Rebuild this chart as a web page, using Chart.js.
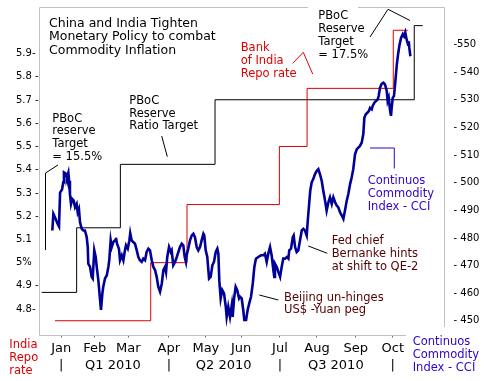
<!DOCTYPE html>
<html><head><meta charset="utf-8">
<script src="https://cdn.jsdelivr.net/npm/chart.js@4.4.1/dist/chart.umd.min.js"></script>
<style>html,body{margin:0;padding:0;background:#fff;}#wrap{width:484px;height:381px;}</style>
</head><body><div id="wrap"><canvas id="c" width="484" height="381"></canvas></div>
<script>
// ---- x axis: trading-day index (0 = first trading day of Jan 2010)
const monthLabels = ['Jan','Feb','Mar','Apr','May','Jun','Jul','Aug','Sep','Oct'];
const monthStartDays = [0,19,38,61,82,102,124,145,167,188];
const quarterLabels = ['Q1 2010','Q2 2010','Q3 2010'];
const quarterCenterDays = [29.3,92.1,155.7];
const quarterDividerDays = [0,61,124,188];

// ---- left axis (India repo rate, %)
const leftTicks = [4.8,4.9,5.0,5.1,5.2,5.3,5.4,5.5,5.6,5.7,5.8,5.9];
const leftTickLabels = ['4.8-','4.9 -','5%','5.1','5.2 -','5.3 -','5.4 -','5.5 -','5.6 -','5.7 -','5.8 -','5.9-'];
// ---- right axis (CCI)
const rightTicks = [450,460,470,480,490,500,510,520,530,540,550];
const rightTickLabels = ['- 450','- 460','- 470','- 480','- 490','- 500','- 510','- 520','- 530','- 540','-550'];

// ---- India repo rate steps (left axis)
const repoDays = [-3.6,50.7,71.3,123.7,139.4,188.3,196.5];
const repoRate = [4.75,5.0,5.25,5.5,5.75,6.0,6.0];

// ---- PBoC reserve ratio target steps, drawn on left-axis scale
const rrrDays = [-11.1,8.7,33.5,87.2,200.2,205.0];
const rrrLevel = [4.872,5.150,5.423,5.701,6.020,6.020];

// ---- Continuous Commodity Index (right axis)
const cciDays = [-5.1,-4.5,-3.3,-2.2,-1.3,-0.7,0.4,1.1,1.5,2.7,3.2,4.0,4.4,4.9,5.5,6.2,7.0,7.8,8.7,9.3,10.0,10.6,11.6,12.5,13.4,14.4,15.0,15.3,16.3,17.2,17.8,18.7,19.5,20.1,21.0,22.0,22.5,23.3,23.8,24.8,25.8,26.7,27.2,28.0,28.6,29.5,30.5,31.0,31.6,32.7,33.3,34.3,35.2,36.1,36.7,37.7,38.6,39.1,39.9,40.8,41.8,42.8,43.7,44.6,45.6,46.5,47.5,48.4,49.4,50.3,51.3,52.2,53.2,54.1,55.0,56.0,57.0,57.9,58.8,59.4,60.1,61.1,62.1,62.6,63.5,64.5,65.5,66.4,67.3,68.3,69.2,70.0,70.7,71.1,72.0,73.0,74.0,74.9,75.8,76.8,77.7,78.7,79.6,80.6,81.1,81.9,82.8,83.8,84.7,85.7,86.6,87.6,88.5,89.1,89.6,90.4,91.3,92.3,93.3,93.8,94.7,95.7,96.7,97.2,98.0,98.9,99.8,100.8,101.4,102.3,103.2,103.8,104.8,105.7,106.6,107.6,108.6,109.5,110.4,111.7,113.3,114.6,115.5,116.5,117.4,118.4,119.3,120.3,120.8,121.2,122.2,123.1,124.1,125.0,125.9,126.9,127.9,128.8,129.3,130.3,131.3,131.8,132.6,133.5,134.4,135.4,136.4,137.3,138.2,139.2,139.8,140.5,141.2,142.0,142.9,143.9,144.9,145.8,146.7,147.7,148.6,149.6,150.5,151.5,152.4,153.4,154.3,155.3,156.2,157.1,158.1,159.1,160.0,160.9,161.9,162.8,163.8,164.7,165.6,166.6,167.6,168.5,169.4,170.4,171.3,171.9,172.7,173.6,174.5,175.1,176.1,176.6,177.5,178.5,179.5,180.0,180.8,181.7,182.7,183.6,184.6,185.1,185.7,186.5,187.0,187.4,188.0,188.7,189.5,190.3,191.0,191.7,192.7,193.7,194.4,195.1,195.9,196.7,197.1,197.4,198.0];
const cciValue = [482.7,488.7,487.0,485.2,484.1,496.4,497.5,500.1,503.7,503.2,501.8,503.6,500.7,495.9,492.3,494.1,493.5,491.1,492.3,489.3,490.5,485.7,483.3,482.7,482.7,480.3,476.7,470.7,469.5,465.9,465.3,475.5,473.1,469.5,464.7,457.5,453.9,459.9,462.3,465.3,466.5,469.5,471.9,479.1,476.7,478.5,479.1,480.1,477.9,476.1,471.9,473.7,471.9,475.5,477.3,476.1,479.1,481.7,479.1,478.5,477.9,475.5,473.1,471.9,471.3,472.5,471.9,474.9,476.1,475.5,471.9,469.5,468.3,465.9,462.3,460.5,463.5,468.3,469.5,467.7,473.1,476.7,474.9,475.5,470.1,471.3,473.1,474.9,476.7,477.9,477.3,473.1,471.3,473.7,476.1,479.1,480.9,481.5,480.3,476.7,475.5,476.7,479.1,481.5,480.9,475.5,473.1,465.3,465.9,470.1,471.3,474.9,476.1,474.3,464.7,458.1,461.1,459.9,455.0,451.4,455.0,451.4,455.7,451.4,458.1,462.3,461.1,458.1,458.7,458.1,453.9,450.3,450.3,453.9,456.3,458.7,463.5,469.5,472.5,473.1,473.7,473.7,474.3,471.3,474.3,476.7,473.7,468.3,465.9,470.7,469.5,467.7,465.9,469.5,472.5,472.5,473.1,472.5,475.5,476.1,480.3,480.9,476.7,474.9,475.5,479.1,482.7,483.3,482.7,480.9,486.3,491.7,497.1,500.1,501.3,503.1,504.3,504.9,503.1,500.7,497.1,493.5,489.9,492.9,494.7,492.3,494.7,492.9,491.7,491.1,489.3,488.1,486.9,489.9,493.5,495.9,499.5,501.9,504.9,510.3,512.1,512.7,513.3,514.5,517.6,523.5,524.8,525.3,526.0,527.1,526.6,527.8,528.9,529.6,530.2,531.4,534.4,535.8,536.2,535.6,533.2,529.6,530.8,526.0,524.2,527.1,530.8,531.4,536.8,542.8,546.4,549.4,552.4,553.8,553.0,554.4,551.8,550.0,551.2,548.8,545.8];

const FONT = '"DejaVu Sans", sans-serif';
const toPts = (xs, ys) => xs.map((x, i) => ({x: x, y: ys[i]}));

const annotations = [
  {lines:['China and India Tighten','Monetary Policy to combat','Commodity Inflation'], x:49, y:26.5, lh:13.8, color:'#000', size:12.5},
  {lines:['PBoC','reserve','Target','= 15.5%'], x:52.3, y:121.5, lh:12.8, color:'#000', size:11.5},
  {lines:['PBoC','Reserve','Ratio Target'], x:129.3, y:104, lh:12.7, color:'#000', size:11.5},
  {lines:['Bank','of India','Repo rate'], x:240.7, y:51, lh:12.9, color:'#dd0000', size:11.5},
  {lines:['PBoC','Reserve','Target','= 17.5%'], x:318.3, y:19, lh:13, color:'#000', size:11.5},
  {lines:['Continuos','Commodity','Index - CCI'], x:367.7, y:184, lh:13, color:'#3300cc', size:11.5},
  {lines:['Fed chief','Bernanke hints','at shift to QE-2'], x:331.7, y:244, lh:13, color:'#550000', size:11.5},
  {lines:['Beijing un-hinges','US$ -Yuan peg'], x:284, y:300.7, lh:12.3, color:'#550000', size:11.5},
  {lines:['India','Repo','rate'], x:9.3, y:348.3, lh:12.9, color:'#dd0000', size:11.5},
  {lines:['Continuos','Commodity','Index - CCI'], x:412.7, y:345, lh:12.85, color:'#3300cc', size:11.5}
];
const pointers = [
  {pts:[[45.5,250],[45.5,173],[58,165]], color:'#000'},
  {pts:[[161.7,136],[167.3,156.7]], color:'#000'},
  {pts:[[292.7,63.3],[303.3,52.3],[312.7,74]], color:'#dd0000'},
  {pts:[[370,37],[388,9.3],[410,20.5]], color:'#000'},
  {pts:[[370,148],[394.3,148],[394.3,168.5]], color:'#3300cc'},
  {pts:[[308.3,246],[327.3,253.3]], color:'#000'},
  {pts:[[259.3,295],[278.3,300]], color:'#000'}
];

const framePlugin = {
  id:'frame',
  beforeDatasetsDraw(chart){
    const {ctx, chartArea:a} = chart;
    const L = Math.floor(a.left)+0.5, R = Math.floor(a.right)+0.5, T = Math.floor(a.top)+0.5, B = Math.floor(a.bottom)+0.5;
    ctx.save();
    ctx.strokeStyle = '#c0c0c0'; ctx.lineWidth = 1;
    ctx.beginPath();
    ctx.moveTo(L, B); ctx.lineTo(L, T); ctx.lineTo(308, T);
    ctx.moveTo(358, T); ctx.lineTo(R, T); ctx.lineTo(R, 327);
    ctx.moveTo(L, B); ctx.lineTo(406, B);
    ctx.stroke();
    ctx.restore();
  },
  afterDraw(chart){
    const {ctx} = chart;
    const xs = chart.scales.x;
    ctx.save();
    ctx.lineWidth = 1;
    pointers.forEach(p => {
      ctx.strokeStyle = p.color;
      ctx.beginPath();
      p.pts.forEach((q, i) => i ? ctx.lineTo(q[0], q[1]) : ctx.moveTo(q[0], q[1]));
      ctx.stroke();
    });
    ctx.textAlign = 'left'; ctx.textBaseline = 'alphabetic';
    annotations.forEach(a => {
      ctx.fillStyle = a.color;
      ctx.font = a.size + 'px ' + FONT;
      a.lines.forEach((l, i) => ctx.fillText(l, a.x, a.y + i * a.lh));
    });
    // quarter row under the month labels
    ctx.fillStyle = '#000';
    ctx.font = '13px ' + FONT;
    ctx.textAlign = 'center';
    quarterLabels.forEach((q, i) => ctx.fillText(q, xs.getPixelForValue(quarterCenterDays[i]), 369.3));
    quarterDividerDays.forEach(d => ctx.fillText('|', xs.getPixelForValue(d), 369.3));
    ctx.restore();
  }
};

new Chart(document.getElementById('c'), {
  type:'line',
  data:{datasets:[
    {label:'CCI', data:toPts(cciDays, cciValue), yAxisID:'y2', borderColor:'#000099', borderWidth:2.6, pointRadius:0, tension:0, order:0},
    {label:'India repo rate', data:toPts(repoDays, repoRate), yAxisID:'y', stepped:'before', borderColor:'#dd0000', borderWidth:1, pointRadius:0, order:1},
    {label:'PBoC reserve ratio', data:toPts(rrrDays, rrrLevel), yAxisID:'y', stepped:'before', borderColor:'#000000', borderWidth:1, pointRadius:0, order:2}
  ]},
  options:{
    responsive:false, animation:false, devicePixelRatio:1,
    layout:{padding:{top:6, left:16, right:0, bottom:0}},
    plugins:{legend:{display:false}, tooltip:{enabled:false}},
    scales:{
      x:{type:'linear', min:-12.37, max:217.07,
        afterBuildTicks:s => { s.ticks = monthStartDays.map(v => ({value:v})); },
        ticks:{autoSkip:false, maxRotation:0, padding:3, color:'#000', font:{family:FONT, size:13},
          callback:(v, i) => monthLabels[i]},
        grid:{drawOnChartArea:false, drawTicks:true, tickLength:2, color:'#666'},
        border:{display:false},
        afterFit:s => { s.height = 45.5; }
      },
      y:{type:'linear', position:'left', min:4.6865, max:6.098,
        afterBuildTicks:s => { s.ticks = leftTicks.map(v => ({value:v})); },
        ticks:{crossAlign:'far', padding:0, color:'#000', font:{family:FONT, size:10},
          callback:(v, i) => leftTickLabels[i]},
        grid:{display:false}, border:{display:false},
        afterFit:s => { s.width = 23.5; }
      },
      y2:{type:'linear', position:'right', min:444.66, max:563.45,
        afterBuildTicks:s => { s.ticks = rightTicks.map(v => ({value:v})); },
        ticks:{padding:1.5, color:'#000', font:{family:FONT, size:10},
          callback:(v, i) => rightTickLabels[i]},
        grid:{display:false}, border:{display:false},
        afterFit:s => { s.width = 40; }
      }
    }
  },
  plugins:[framePlugin]
});
</script>
</body></html>
